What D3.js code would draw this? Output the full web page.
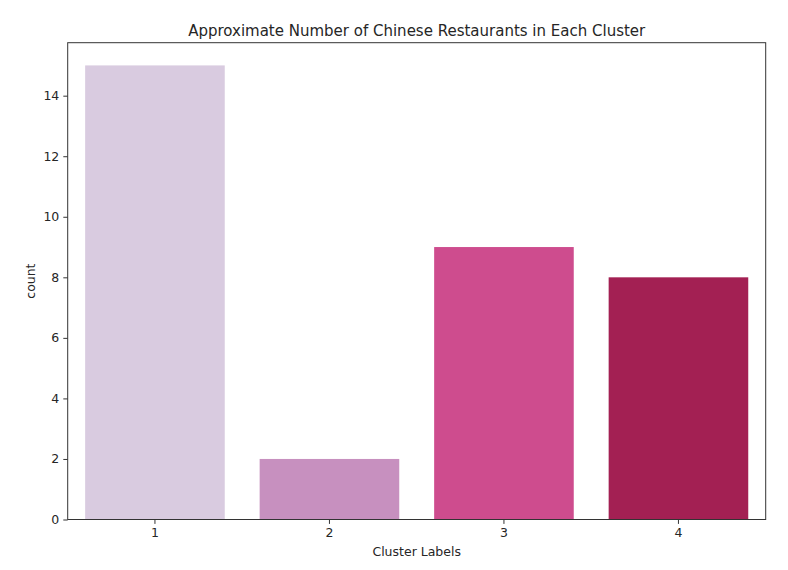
<!DOCTYPE html>
<html>
<head>
<meta charset="utf-8">
<script src="https://cdn.jsdelivr.net/npm/d3@7"></script>
<style>
body { margin: 0; background: #fff; }
text { font-family: "DejaVu Sans", sans-serif; fill: #262626; }
</style>
</head>
<body>
<svg id="chart" width="788" height="570"></svg>
<script>
const categories = ["1", "2", "3", "4"];
const counts = [15, 2, 9, 8];
const colors = ["#d9cbe0", "#c790bf", "#ce4c8e", "#a32053"];
const yTicks = [0, 2, 4, 6, 8, 10, 12, 14];
const title = "Approximate Number of Chinese Restaurants in Each Cluster";
const xLabel = "Cluster Labels";
const yLabel = "count";

const svg = d3.select("#chart");
const m = { left: 67.7, right: 765.7, top: 42.7, bottom: 519.5 };

const x = d3.scaleBand().domain(categories).range([m.left, m.right]).paddingInner(0.2).paddingOuter(0.1);
const y = d3.scaleLinear().domain([0, 15.75]).range([m.bottom, m.top]);

svg.append("g").selectAll("rect").data(categories).join("rect")
  .attr("x", d => x(d))
  .attr("width", x.bandwidth())
  .attr("y", (d, i) => y(counts[i]))
  .attr("height", (d, i) => y(0) - y(counts[i]))
  .attr("fill", (d, i) => colors[i]);

const xAxis = svg.append("g").attr("transform", `translate(0,${m.bottom})`)
  .call(d3.axisBottom(x).tickSize(4.4).tickPadding(4));
xAxis.select(".domain").remove();
xAxis.selectAll("line").attr("stroke", "#333");
xAxis.selectAll("text").style("font-size", "12.5px").attr("fill", "#262626").style("font-family", "DejaVu Sans");

const yAxis = svg.append("g").attr("transform", `translate(${m.left},0)`)
  .call(d3.axisLeft(y).tickValues(yTicks).tickSize(4.4).tickPadding(4));
yAxis.select(".domain").remove();
yAxis.selectAll("line").attr("stroke", "#333");
yAxis.selectAll("text").style("font-size", "12.5px").attr("fill", "#262626").style("font-family", "DejaVu Sans");

svg.append("rect")
  .attr("x", m.left).attr("y", m.top)
  .attr("width", m.right - m.left).attr("height", m.bottom - m.top)
  .attr("fill", "none").attr("stroke", "#333").attr("stroke-width", 1);

svg.append("text").attr("x", (m.left + m.right) / 2).attr("y", 36)
  .attr("text-anchor", "middle").style("font-size", "15px").text(title);

svg.append("text").attr("x", (m.left + m.right) / 2).attr("y", 556)
  .attr("text-anchor", "middle").style("font-size", "12.5px").text(xLabel);

svg.append("text").attr("transform", `translate(35,${(m.top + m.bottom) / 2}) rotate(-90)`)
  .attr("text-anchor", "middle").style("font-size", "12.5px").text(yLabel);
</script>
</body>
</html>
